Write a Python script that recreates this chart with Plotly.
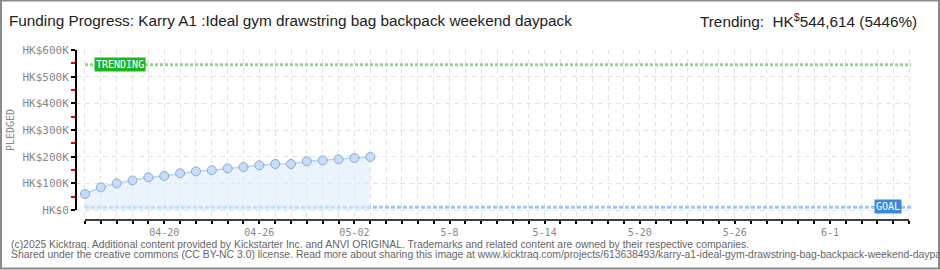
import pandas as pd
import plotly.graph_objects as go

# ---------------- data ----------------
dates = ["2025-04-15", "2025-04-16", "2025-04-17", "2025-04-18", "2025-04-19",
         "2025-04-20", "2025-04-21", "2025-04-22", "2025-04-23", "2025-04-24",
         "2025-04-25", "2025-04-26", "2025-04-27", "2025-04-28", "2025-04-29",
         "2025-04-30", "2025-05-01", "2025-05-02", "2025-05-03"]
pledged = [60000, 85000, 100000, 111000, 122500, 127500, 137500, 145000, 149000,
           156000, 161000, 167500, 172500, 172500, 182500, 186000, 190000, 195000, 199000]
trending_value = 544614
goal_value = 10000
axis_start = "2025-04-15"
axis_end = "2025-06-06"
tick_label_dates = ["2025-04-20", "2025-04-26", "2025-05-02", "2025-05-08",
                    "2025-05-14", "2025-05-20", "2025-05-26", "2025-06-01"]
tick_labels = ["04-20", "04-26", "05-02", "5-8", "5-14", "5-20", "5-26", "6-1"]
y_tick_vals = [0, 100000, 200000, 300000, 400000, 500000, 600000]
y_tick_text = ["HK$0", "HK$100K", "HK$200K", "HK$300K", "HK$400K", "HK$500K", "HK$600K"]
y_minor_vals = [50000, 150000, 250000, 350000, 450000, 550000]

title_text = "Funding Progress: Karry A1 :Ideal gym drawstring bag backpack weekend daypack"
trend_text = "Trending:  HK<sup>$</sup>544,614 (5446%)"
footer1 = ("(c)2025 Kicktraq. Additional content provided by Kickstarter Inc. and ANVI ORIGINAL. "
           "Trademarks and related content are owned by their respective companies.")
footer2 = ("Shared under the creative commons (CC BY-NC 3.0) license. Read more about sharing this image at "
           "www.kicktraq.com/projects/613638493/karry-a1-ideal-gym-drawstring-bag-backpack-weekend-daypack")

# ---------------- layout geometry ----------------
W, H = 940, 270
ML, MR, MT, MB = 76, 28, 50, 50
PW, PH = W - ML - MR, H - MT - MB


def px_x(p):
    return (p - ML) / PW


def px_y(p):
    return (H - MB - p) / PH


start = pd.Timestamp(axis_start)
end = pd.Timestamp(axis_end)
all_days = pd.date_range(start, end, freq="D")
label_map = dict(zip(pd.to_datetime(tick_label_dates), tick_labels))
tickvals = list(all_days)
ticktext = [label_map.get(d, "") for d in all_days]
x_range = [start - pd.Timedelta(hours=13.6), end + pd.Timedelta(hours=4.3)]
y_range = [-37500, 600000]

MONO = "DejaVu Sans Mono, monospace"
TITLE = "Liberation Sans, Arial, sans-serif"

fig = go.Figure()

# goal line
fig.add_trace(go.Scatter(
    x=[start, end + pd.Timedelta(hours=4)], y=[goal_value, goal_value], mode="lines",
    line=dict(color="#9fc5ee", width=3, dash="4px,2px"), hoverinfo="skip", showlegend=False))
# trending line
fig.add_trace(go.Scatter(
    x=[start, end + pd.Timedelta(hours=3)], y=[trending_value, trending_value], mode="lines",
    line=dict(color="#8fd68f", width=3, dash="3px,2px"), hoverinfo="skip", showlegend=False))
# pledged area + markers
fig.add_trace(go.Scatter(
    x=pd.to_datetime(dates), y=pledged, mode="lines+markers",
    fill="tozeroy", fillcolor="rgba(222,236,250,0.6)",
    line=dict(color="#b9d4f2", width=1.5),
    marker=dict(size=9, color="#c6ddf7", line=dict(color="#8ea9cc", width=1)),
    showlegend=False))
# invisible trace on the secondary y axis so its red ticks are drawn
fig.add_trace(go.Scatter(x=[start], y=[0], yaxis="y2", mode="markers",
                         marker=dict(opacity=0), hoverinfo="skip", showlegend=False))

shapes = [
    # y axis line (0 .. 600K)
    dict(type="line", xref="paper", yref="y", x0=0, x1=0, y0=0, y1=600000,
         line=dict(color="black", width=2)),
    # x axis line
    dict(type="line", xref="x", yref="paper", x0=start, x1=end, y0=0, y1=0,
         line=dict(color="black", width=1.5)),
    # outer frame
    dict(type="rect", xref="paper", yref="paper", x0=px_x(1), x1=px_x(939),
         y0=px_y(268.5), y1=px_y(0.5), line=dict(color="#8a8a8a", width=2)),
]

annotations = [
    dict(text=title_text, xref="paper", yref="paper", x=px_x(7), y=px_y(21),
         xanchor="left", yanchor="middle", showarrow=False,
         font=dict(family=TITLE, size=15.3, color="#222")),
    dict(text=trend_text, xref="paper", yref="paper", x=px_x(919), y=px_y(21),
         xanchor="right", yanchor="middle", showarrow=False,
         font=dict(family=TITLE, size=15.3, color="#222")),
    dict(text="PLEDGED", xref="paper", yref="paper", x=px_x(10), y=px_y(130),
         xanchor="center", yanchor="middle", textangle=-90, showarrow=False,
         font=dict(family=MONO, size=10, color="#888")),
    dict(text="TRENDING", xref="x", yref="y",
         x=start + pd.Timedelta(days=2.24), y=trending_value,
         xanchor="center", yanchor="middle", showarrow=False,
         bgcolor="#1fb51f", borderpad=1,
         font=dict(family=MONO, size=10, color="white")),
    dict(text="GOAL", xref="x", yref="y",
         x=start + pd.Timedelta(days=50.69), y=goal_value + 3000,
         xanchor="center", yanchor="middle", showarrow=False,
         bgcolor="#3b8ad9", borderpad=1,
         font=dict(family=MONO, size=10, color="white")),
    dict(text=footer1, xref="paper", yref="paper", x=px_x(9), y=px_y(244.5),
         xanchor="left", yanchor="middle", showarrow=False,
         font=dict(family="Liberation Sans, sans-serif", size=10.4, color="#666")),
    dict(text=footer2, xref="paper", yref="paper", x=px_x(9), y=px_y(254.5),
         xanchor="left", yanchor="middle", showarrow=False,
         font=dict(family="Liberation Sans, sans-serif", size=10.4, color="#666")),
]

fig.update_layout(
    width=W, height=H, margin=dict(l=ML, r=MR, t=MT, b=MB),
    paper_bgcolor="white", plot_bgcolor="white",
    shapes=shapes, annotations=annotations, showlegend=False,
    xaxis=dict(
        type="date", range=x_range, tickmode="array", tickvals=tickvals, ticktext=ticktext,
        showgrid=True, gridcolor="#e3e3e3", griddash="5px,4px", gridwidth=1,
        ticks="outside", ticklen=3, tickcolor="black", tickwidth=1.5,
        showline=False, zeroline=False,
        tickfont=dict(family=MONO, size=10, color="#888"),
    ),
    yaxis=dict(
        range=y_range, tickmode="array", tickvals=y_tick_vals, ticktext=y_tick_text,
        showgrid=True, gridcolor="#e3e3e3", griddash="5px,4px", gridwidth=1,
        ticks="outside", ticklen=4, tickcolor="black", tickwidth=1.5,
        showline=False, zeroline=False,
        tickfont=dict(family=MONO, size=11, color="#888"),
    ),
    yaxis2=dict(
        range=y_range, overlaying="y", side="left", tickmode="array",
        tickvals=y_minor_vals, showticklabels=False,
        showgrid=False, zeroline=False, showline=False,
        ticks="outside", ticklen=4, tickcolor="red", tickwidth=1.5,
    ),
)

fig.write_html("out.html")
